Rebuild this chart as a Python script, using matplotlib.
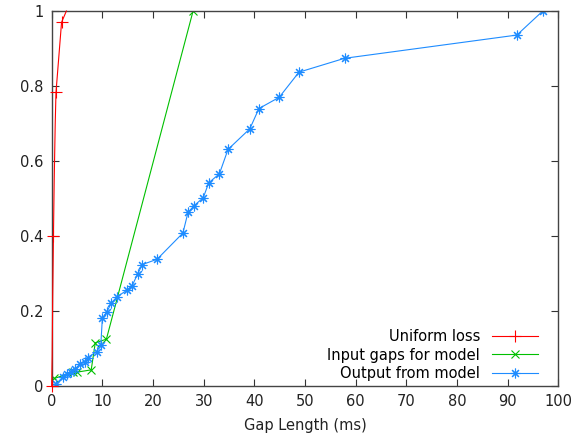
import matplotlib
matplotlib.use("Agg")
import matplotlib.pyplot as plt

# Cumulative distribution of gap lengths (ms)
uniform_x = [0.0, 0.1, 0.2, 0.35, 0.5, 0.7, 0.85, 1.95, 2.9]
uniform_y = [0.0, 0.08, 0.24, 0.40, 0.55, 0.70, 0.783, 0.97, 1.0]

input_x = [0.5, 4.2, 5.0, 7.8, 8.6, 10.8, 27.9]
input_y = [0.02, 0.037, 0.037, 0.043, 0.115, 0.125, 1.0]

output_x = [0.8, 2.3, 3.0, 3.8, 4.6, 5.5, 6.5, 7.1, 8.9, 9.7, 10.0, 10.9,
            11.8, 12.9, 14.8, 15.9, 17.0, 17.9, 20.8, 25.9, 26.9, 28.1,
            29.9, 31.0, 33.1, 34.8, 39.1, 40.9, 44.9, 48.8, 57.8, 91.8, 96.9]
output_y = [0.005, 0.025, 0.032, 0.038, 0.045, 0.058, 0.065, 0.076, 0.092,
            0.11, 0.181, 0.198, 0.222, 0.238, 0.255, 0.268, 0.300, 0.324,
            0.338, 0.408, 0.463, 0.481, 0.502, 0.542, 0.566, 0.631, 0.686,
            0.740, 0.770, 0.837, 0.874, 0.936, 1.0]

x_ticks = list(range(0, 101, 10))
y_ticks = [0, 0.2, 0.4, 0.6, 0.8, 1]
y_tick_labels = ["0", "0.2", "0.4", "0.6", "0.8", "1"]

plt.rcParams["font.family"] = "DejaVu Sans"
fig = plt.figure(figsize=(5.71, 4.42), dpi=100)
ax = fig.add_axes([0.0905, 0.1267, 0.978 - 0.0905, 0.975 - 0.1267])

ax.plot(uniform_x, uniform_y, color="#ff0000", lw=0.8, marker="+",
        ms=8, mew=0.8, markevery=[0, 3, 6, 7], label="Uniform loss",
        clip_on=False, zorder=3)
ax.plot(input_x, input_y, color="#00c000", lw=0.8, marker="x",
        ms=5.5, mew=0.8, label="Input gaps for model", zorder=2)
ax.plot(output_x, output_y, color="#1e8cff", lw=0.8, marker=(8, 2, 0),
        ms=7, mew=0.8, label="Output from model", zorder=2)

ax.set_xlim(0, 100)
ax.set_ylim(0, 1)
ax.set_xticks(x_ticks)
ax.set_xticklabels([str(t) for t in x_ticks])
ax.set_yticks(y_ticks)
ax.set_yticklabels(y_tick_labels)
ax.tick_params(direction="in", length=5, width=0.8, color="#333333",
               top=True, right=True, labelsize=10.5, labelcolor="#222222", pad=6)
for s in ax.spines.values():
    s.set_color("#444444")
    s.set_linewidth(1.0)

ax.set_xlabel("Gap Length (ms)", fontsize=10.5, color="#222222", labelpad=6)

leg = ax.legend(loc="lower right", bbox_to_anchor=(1 - 0.0197, -0.0133),
                frameon=False, markerfirst=False, fontsize=10.5,
                handlelength=3.15, handletextpad=0.85, labelspacing=0.22,
                borderaxespad=0.3)
for t in leg.get_texts():
    t.set_ha("right")
leg._legend_box.align = "right"

fig.savefig("out.png", dpi=100)
